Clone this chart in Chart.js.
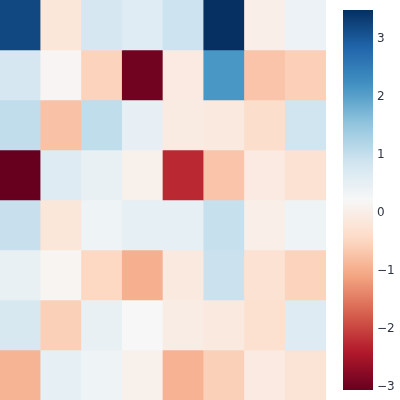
<!DOCTYPE html>
<html lang="en">

<head>
	<meta charset="UTF-8">
	<title>Heatmap</title>
	<script src="https://cdn.jsdelivr.net/npm/chart.js"></script>
	<style>
		body { margin: 0; background: #fff; }
		#heat { position: absolute; left: 0; top: 0; }
		#cbar { position: absolute; left: 343px; top: 0; }
	</style>
</head>

<body>

	<canvas id="heat" width="326" height="400"></canvas>
	<canvas id="cbar" width="57" height="400"></canvas>

	<script>
		const colLabels = ['0', '1', '2', '3', '4', '5', '6', '7'];
		const rowLabels = ['0', '1', '2', '3', '4', '5', '6', '7'];

		// one array per row, top to bottom
		const row0 = [3.21, -0.18, 0.79, 0.63, 0.92, 3.50, 0.01, 0.41];
		const row1 = [0.79, 0.16, -0.52, -2.97, -0.08, 2.14, -0.72, -0.58];
		const row2 = [1.04, -0.74, 1.05, 0.50, -0.07, -0.11, -0.37, 0.88];
		const row3 = [-3.06, 0.65, 0.46, 0.06, -2.26, -0.72, -0.08, -0.27];
		const row4 = [0.97, -0.17, 0.38, 0.52, 0.52, 0.98, 0.01, 0.38];
		const row5 = [0.48, 0.15, -0.47, -0.97, -0.11, 0.94, -0.27, -0.52];
		const row6 = [0.75, -0.57, 0.48, 0.22, -0.04, -0.11, -0.30, 0.65];
		const row7 = [-0.91, 0.52, 0.38, 0.06, -0.93, -0.57, -0.08, -0.24];
		const rows = [row0, row1, row2, row3, row4, row5, row6, row7];

		const vMin = -3.06;
		const vMax = 3.50;
		const cbTicks = [-3, -2, -1, 0, 1, 2, 3];

		// RdBu, red (low) to blue (high)
		const rdbu = ['#67001f', '#b2182b', '#d6604d', '#f4a582', '#fddbc7', '#f7f7f7',
			'#d1e5f0', '#92c5de', '#4393c3', '#2166ac', '#053061'];

		function hexRgb(h) {
			return [1, 3, 5].map(i => parseInt(h.substr(i, 2), 16));
		}

		function cmap(t) {
			t = Math.min(1, Math.max(0, t));
			const p = t * (rdbu.length - 1);
			const i = Math.min(rdbu.length - 2, Math.floor(p));
			const f = p - i;
			const a = hexRgb(rdbu[i]), b = hexRgb(rdbu[i + 1]);
			const c = a.map((v, k) => Math.round(v + (b[k] - v) * f));
			return 'rgb(' + c.join(',') + ')';
		}

		function colorFor(v) {
			return cmap((v - vMin) / (vMax - vMin));
		}

		new Chart(document.getElementById('heat'), {
			type: 'bar',
			data: {
				labels: colLabels,
				datasets: rows.map((row, r) => ({
					label: rowLabels[r],
					data: row.map(() => [r, r + 1]),
					backgroundColor: row.map(colorFor),
					borderWidth: 0,
					barPercentage: 1,
					categoryPercentage: 1,
					grouped: false
				}))
			},
			options: {
				responsive: false,
				animation: false,
				layout: { padding: 0 },
				plugins: { legend: { display: false }, tooltip: { enabled: false } },
				scales: {
					x: { display: false },
					y: { display: false, min: 0, max: rowLabels.length, reverse: true }
				}
			}
		});

		new Chart(document.getElementById('cbar'), {
			type: 'bar',
			data: {
				labels: [''],
				datasets: [{
					data: [[vMin, vMax]],
					borderWidth: 0,
					barPercentage: 1,
					categoryPercentage: 1,
					backgroundColor: function (ctx) {
						const area = ctx.chart.chartArea;
						if (!area) return '#fff';
						const g = ctx.chart.ctx.createLinearGradient(0, area.bottom, 0, area.top);
						for (let i = 0; i <= 64; i++) g.addColorStop(i / 64, cmap(i / 64));
						return g;
					}
				}]
			},
			options: {
				responsive: false,
				animation: false,
				layout: { padding: { top: 10, bottom: 10, left: 0, right: 0 } },
				plugins: { legend: { display: false }, tooltip: { enabled: false } },
				scales: {
					x: { display: false },
					y: {
						position: 'right',
						min: vMin,
						max: vMax,
						afterBuildTicks: s => { s.ticks = cbTicks.map(v => ({ value: v })); },
						afterFit: s => {
							s.width = 27;
							s.paddingTop = 0;
							s.paddingBottom = 0;
						},
						grid: { display: false, drawTicks: false, tickLength: 0 },
						border: { display: false },
						ticks: {
							padding: 4,
							color: '#2f3545',
							font: { family: 'DejaVu Sans', size: 12 },
							callback: v => String(v).replace('-', '\u2212')
						}
					}
				}
			}
		});
	</script>

</body>

</html>
